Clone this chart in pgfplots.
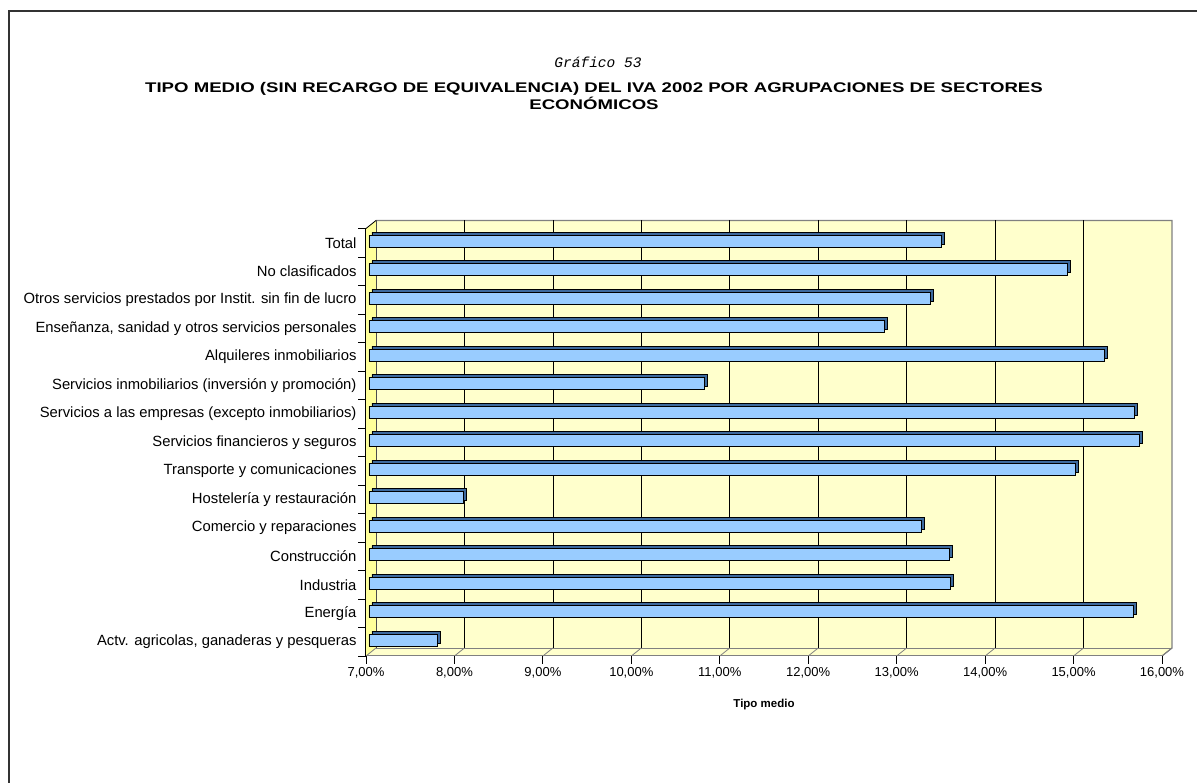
\documentclass[border=0pt]{standalone}
\usepackage{pgfplots}
\pgfplotsset{compat=1.18}
\usepackage{pgfplotstable}
\usepackage{fontspec}
\setmainfont{Liberation Sans}
\newfontfamily\monofont{Liberation Mono}
\definecolor{wall}{HTML}{FFFFCC}
\definecolor{side}{HTML}{FFFF99}
\definecolor{barfill}{HTML}{99CCFF}
\definecolor{bardark}{HTML}{3D6A9E}
\definecolor{edgegray}{HTML}{808080}

\pgfplotstableread{
y v
0 7.77
1 15.64
2 13.57
3 13.56
4 13.25
5 8.07
6 14.99
7 15.71
8 15.65
9 10.79
10 15.32
11 12.83
12 13.35
13 14.90
14 13.47
}\datatable

\begin{document}
\begin{tikzpicture}[x=1pt,y=1pt]
\useasboundingbox (0,0) rectangle (1197,783);
\draw[line width=1.6pt, black!80] (9,0) -- (9,772) -- (1197,772);
\node[font=\monofont\itshape\fontsize{14.5}{16}\selectfont] at (598,721) {Gráfico 53};
\node[font=\bfseries\fontsize{14}{17}\selectfont, align=center, xscale=1.33] at (594,687) {TIPO MEDIO (SIN RECARGO DE EQUIVALENCIA) DEL IVA 2002 POR AGRUPACIONES DE SECTORES\\ECONÓMICOS};
\begin{axis}[
  at={(366pt,127pt)}, anchor=south west,
  scale only axis, width=796pt, height=427.5pt,
  xmin=0, xmax=9, ymin=-0.5, ymax=14.5,
  clip=false,
  axis on top,
  axis x line*=bottom, axis y line*=left,
  x axis line style={draw=edgegray, line width=1pt, -},
  y axis line style={draw=black, line width=1pt, -},
  xtick={0,...,9},
  xticklabels={{7,00\%},{8,00\%},{9,00\%},{10,00\%},{11,00\%},{12,00\%},{13,00\%},{14,00\%},{15,00\%},{16,00\%}},
  xtick align=outside, major tick length=8pt,
  xtick style={black, line width=0.8pt},
  ytick={0,...,14},
  yticklabels={{Actv. agricolas, ganaderas y pesqueras},{Energía},{Industria},{Construcción},{Comercio y reparaciones},{Hostelería y restauración},{Transporte y comunicaciones},{Servicios financieros y seguros},{Servicios a las empresas (excepto inmobiliarios)},{Servicios inmobiliarios (inversión y promoción)},{Alquileres inmobiliarios},{Enseñanza, sanidad y otros servicios personales},{Otros servicios prestados por Instit. sin fin de lucro},{No clasificados},{Total}},
  ytick style={draw=none},
  xticklabel style={font=\fontsize{13}{15}\selectfont},
  yticklabel style={font=\fontsize{14.8}{16}\selectfont, xshift=-6pt},
  xlabel={Tipo medio},
  xlabel style={font=\bfseries\fontsize{11.5}{13}\selectfont, at={(rel axis cs:0.5,0)}, anchor=center, yshift=-49pt},
]
% back wall, floor, side wall
\fill[wall] ([shift={(10pt,8pt)}]rel axis cs:0,0) rectangle ([shift={(10pt,8pt)}]rel axis cs:1,1);
\fill[wall] (rel axis cs:0,0) -- (rel axis cs:1,0) -- ([shift={(10pt,8pt)}]rel axis cs:1,0) -- ([shift={(10pt,8pt)}]rel axis cs:0,0) -- cycle;
\fill[side] (rel axis cs:0,0) -- (rel axis cs:0,1) -- ([shift={(10pt,8pt)}]rel axis cs:0,1) -- ([shift={(10pt,8pt)}]rel axis cs:0,0) -- cycle;
\draw[edgegray, line width=1.2pt] ([shift={(10pt,8pt)}]rel axis cs:0,1) -- ([shift={(10pt,8pt)}]rel axis cs:1,1) -- ([shift={(10pt,8pt)}]rel axis cs:1,0) -- (rel axis cs:1,0);
\draw[black, line width=0.8pt] (rel axis cs:0,1) -- ([shift={(10pt,8pt)}]rel axis cs:0,1);
\draw[edgegray, line width=0.8pt] ([shift={(10pt,8pt)}]rel axis cs:0,0) -- ([shift={(10pt,8pt)}]rel axis cs:1,0);
\draw[black!70, line width=0.8pt] ([shift={(10pt,8pt)}]rel axis cs:0,0) -- ([shift={(10pt,8pt)}]rel axis cs:0,1);
\pgfplotsinvokeforeach{1,...,8}{
  \draw[black, line width=0.7pt] ([shift={(10pt,8pt)}]axis cs:#1,-0.5) -- ([shift={(10pt,8pt)}]axis cs:#1,14.5);
}
\pgfplotsinvokeforeach{0,...,9}{
  \draw[edgegray, line width=0.8pt] (axis cs:#1,-0.5) -- ([shift={(10pt,8pt)}]axis cs:#1,-0.5);
}
\pgfplotsinvokeforeach{-0.5,0.5,...,14.5}{
  \draw[black, line width=0.8pt] (axis cs:0,#1) -- ([xshift=-8pt]axis cs:0,#1);
}
% bars: depth copy, then front face
\addplot[xbar, bar width=12pt, fill=bardark, draw=black, line width=0.9pt, xshift=6pt, yshift=4.5pt]
  table[x expr=\thisrow{v}-7, y=y] {\datatable};
\addplot[xbar, bar width=12pt, fill=barfill, draw=black, line width=0.9pt, xshift=3pt, yshift=1.5pt]
  table[x expr=\thisrow{v}-7, y=y] {\datatable};
\end{axis}
\end{tikzpicture}
\end{document}
